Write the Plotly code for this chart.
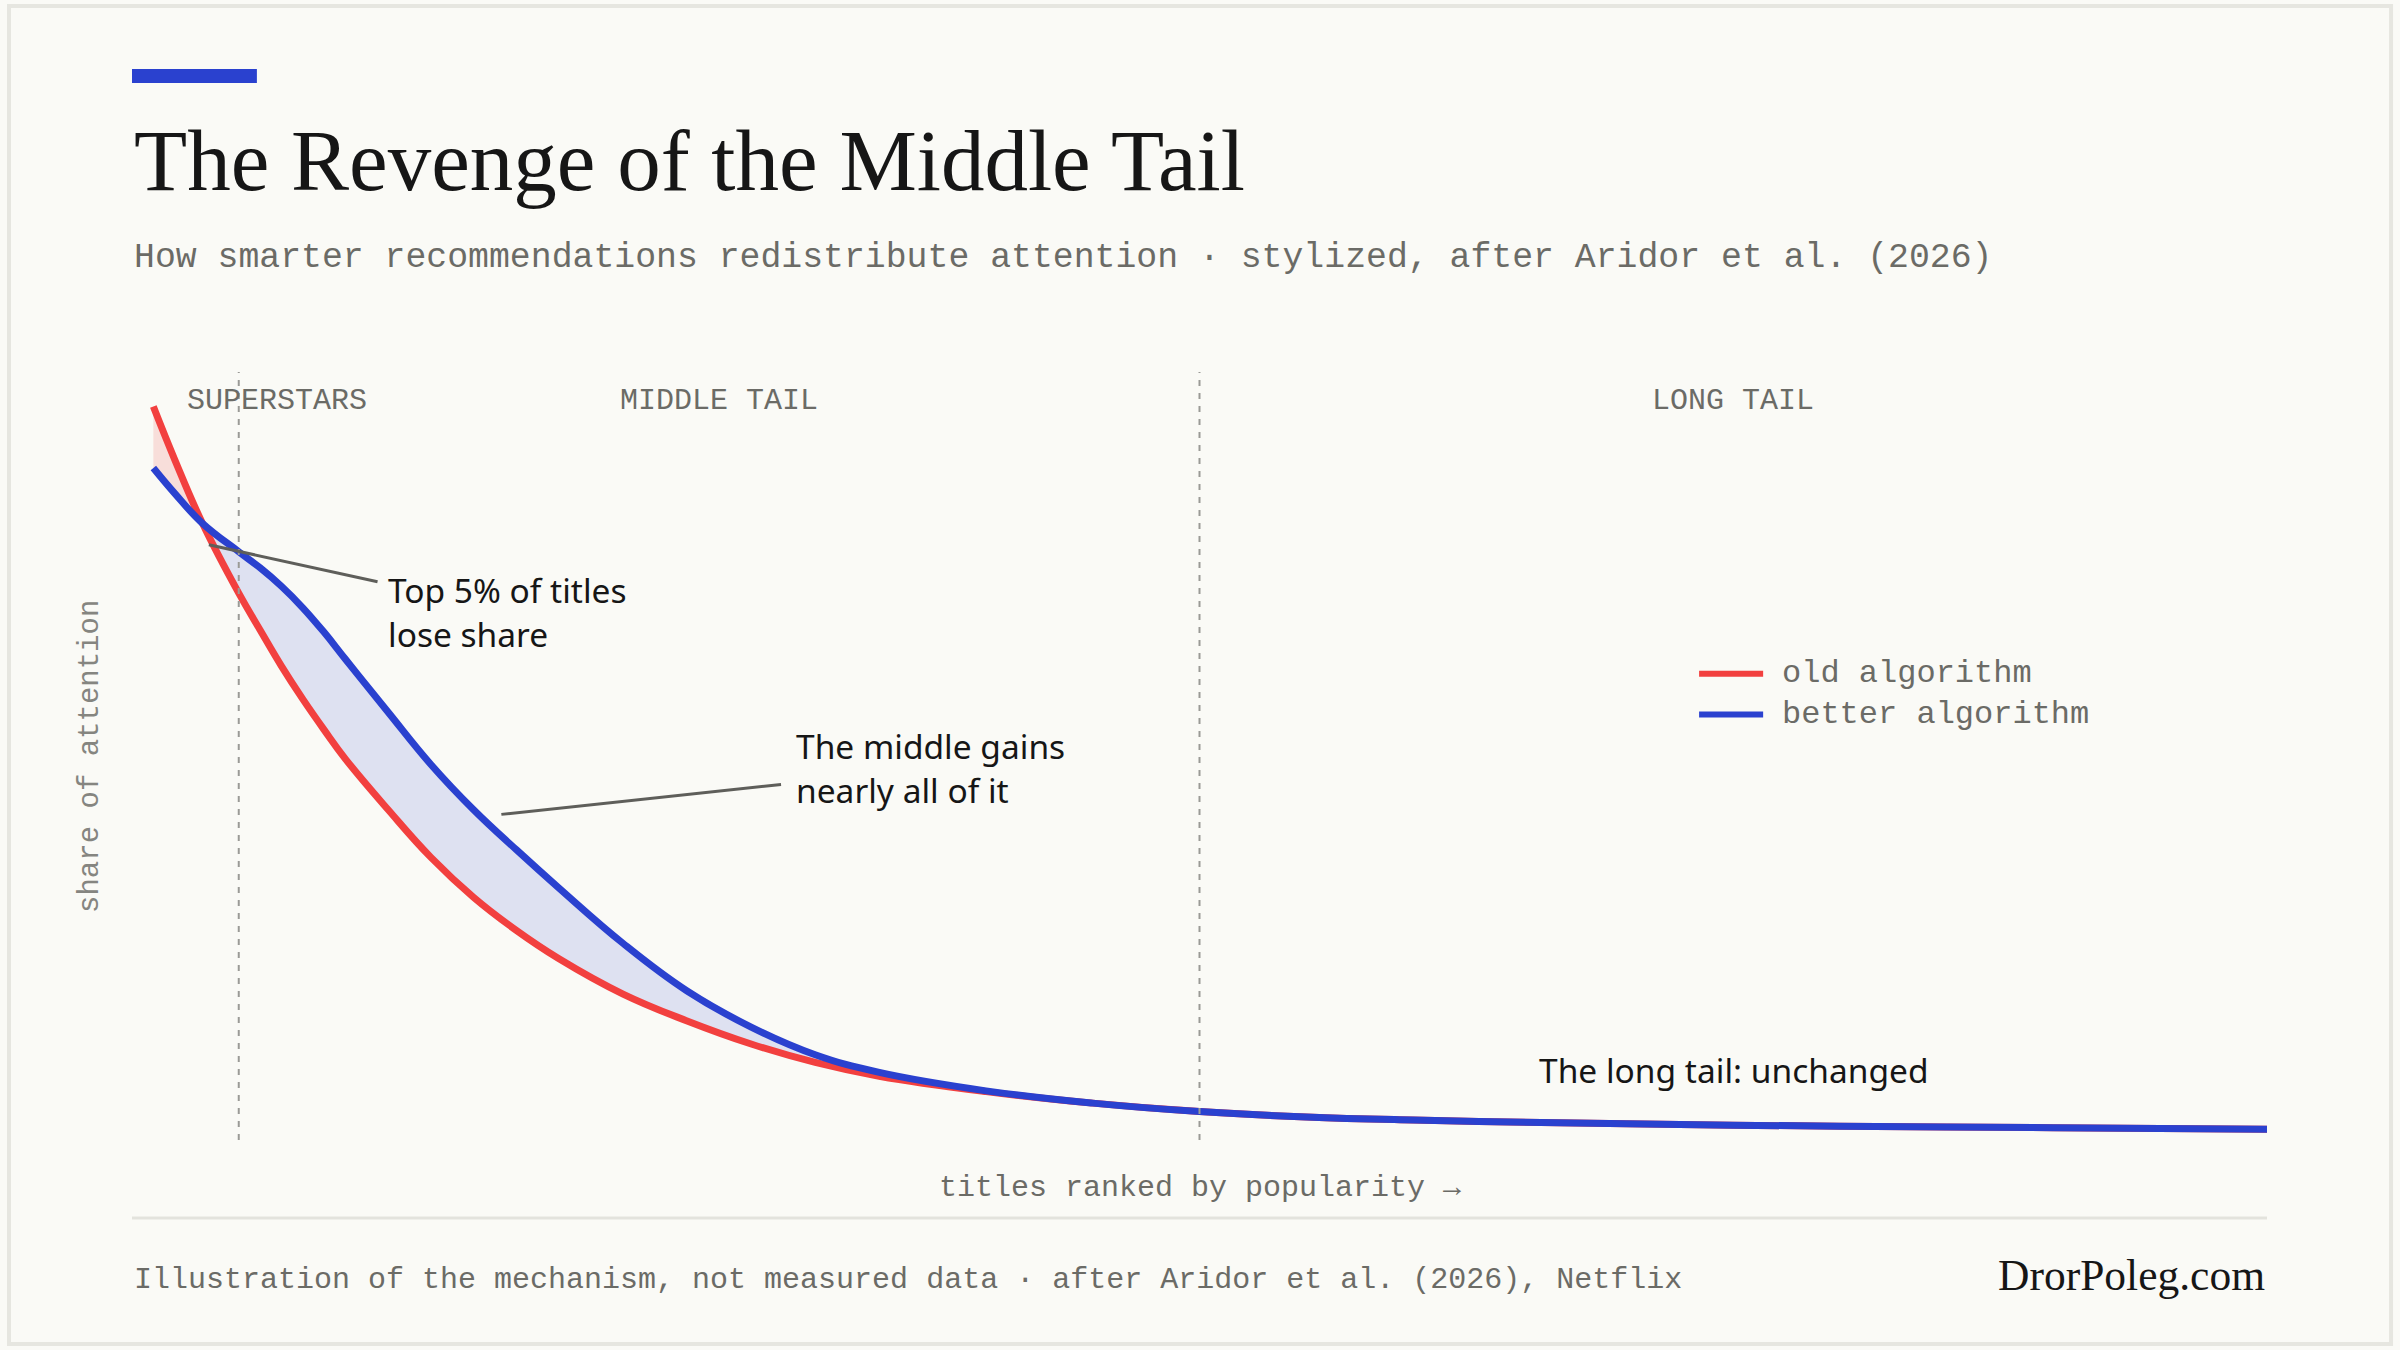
import plotly.graph_objects as go

# share of attention by popularity rank (stylized)
rank = [1, 2, 3.3, 5, 6, 7, 8, 9, 10, 12, 14, 16, 18, 20, 23, 26, 29, 32, 35,
        40, 45, 50, 55, 60, 70, 80, 90, 100]
old_algo = [0.955, 0.886, 0.803, 0.712, 0.664, 0.617, 0.574, 0.534, 0.496,
            0.430, 0.368, 0.316, 0.273, 0.236, 0.190, 0.155, 0.125, 0.101, 0.083,
            0.063, 0.048, 0.037, 0.030, 0.026, 0.021, 0.018, 0.016, 0.014]
better_algo = [0.875, 0.842, 0.803, 0.766, 0.745, 0.721, 0.693, 0.661, 0.626,
               0.557, 0.489, 0.430, 0.378, 0.328, 0.256, 0.194, 0.147, 0.111, 0.088,
               0.064, 0.048, 0.037, 0.030, 0.026, 0.021, 0.018, 0.016, 0.014]
cross = 2  # index where the two curves meet

zones = ["SUPERSTARS", "MIDDLE TAIL", "LONG TAIL"]
zone_edges = [5, 50]

RED = "#F2403F"
BLUE = "#2A41CF"
BG = "#FAFAF6"
GREY = "#6B6B66"
INK = "#161616"
MONO = "Liberation Mono, DejaVu Sans Mono, monospace"
SANS = "Noto Sans, Open Sans, sans-serif"
SERIF = "Liberation Serif, DejaVu Serif, serif"
SMOOTH = 1.2

fig = go.Figure()

# pink band: superstars lose share
fig.add_trace(go.Scatter(x=rank[:cross + 1], y=old_algo[:cross + 1], mode="lines",
                         line=dict(width=0, shape="spline", smoothing=SMOOTH), hoverinfo="skip"))
fig.add_trace(go.Scatter(x=rank[:cross + 1], y=better_algo[:cross + 1], mode="lines",
                         line=dict(width=0, shape="spline", smoothing=SMOOTH), fill="tonexty",
                         fillcolor="rgba(242,64,63,0.15)", hoverinfo="skip"))
# blue band: the middle gains
fig.add_trace(go.Scatter(x=rank[cross:], y=old_algo[cross:], mode="lines",
                         line=dict(width=0, shape="spline", smoothing=SMOOTH), hoverinfo="skip"))
fig.add_trace(go.Scatter(x=rank[cross:], y=better_algo[cross:], mode="lines",
                         line=dict(width=0, shape="spline", smoothing=SMOOTH), fill="tonexty",
                         fillcolor="rgba(42,65,207,0.13)", hoverinfo="skip"))

fig.add_trace(go.Scatter(x=rank, y=old_algo, mode="lines", name="old algorithm",
                         line=dict(color=RED, width=7, shape="spline", smoothing=SMOOTH)))
fig.add_trace(go.Scatter(x=rank, y=better_algo, mode="lines", name="better algorithm",
                         line=dict(color=BLUE, width=7, shape="spline", smoothing=SMOOTH)))

shapes = []
# outer frame and accent bar
shapes.append(dict(type="rect", xref="paper", yref="paper", x0=-0.0576, x1=1.0581,
                   y0=-0.2656, y1=1.4766, line=dict(color="#E6E6E0", width=4)))
shapes.append(dict(type="rect", xref="paper", yref="paper", x0=0, x1=0.0585,
                   y0=1.3763, y1=1.3945, fillcolor=BLUE, line=dict(width=0)))
# zone dividers
for edge in zone_edges:
    shapes.append(dict(type="line", xref="x", yref="paper", x0=edge, x1=edge, y0=0, y1=1,
                       line=dict(color="#9A9A96", width=2, dash="6px,7px")))
# separator above footer
shapes.append(dict(type="line", xref="paper", yref="paper", x0=0, x1=1,
                   y0=-0.1016, y1=-0.1016, line=dict(color="#E3E3DD", width=3)))
# leader lines
shapes.append(dict(type="line", xref="x", yref="y", x0=3.6, y0=0.775, x1=11.5, y1=0.727,
                   line=dict(color="#5E5E5A", width=3)))
shapes.append(dict(type="line", xref="x", yref="y", x0=17.3, y0=0.424, x1=30.4, y1=0.463,
                   line=dict(color="#5E5E5A", width=3)))
# legend samples
shapes.append(dict(type="line", xref="paper", yref="paper", x0=0.734, x1=0.764,
                   y0=0.607, y1=0.607, line=dict(color=RED, width=6)))
shapes.append(dict(type="line", xref="paper", yref="paper", x0=0.734, x1=0.764,
                   y0=0.554, y1=0.554, line=dict(color=BLUE, width=6)))

ann = []
ann.append(dict(text="The Revenge of the Middle Tail", xref="paper", yref="paper",
                x=0, y=1.276, xanchor="left", yanchor="middle", showarrow=False,
                font=dict(family=SERIF, size=87, color=INK)))
ann.append(dict(text="How smarter recommendations redistribute attention · stylized, after Aridor et al. (2026)",
                xref="paper", yref="paper", x=0, y=1.149, xanchor="left", yanchor="middle",
                showarrow=False, font=dict(family=MONO, size=34.8, color=GREY)))
# zone labels
zone_x = [2.5, 27.5, 75]
zone_anchor = ["left", "center", "center"]
for name, zx, za in zip(zones, zone_x, zone_anchor):
    ann.append(dict(text=name, xref="x", yref="paper", x=zx, y=0.962, xanchor=za,
                    yanchor="middle", showarrow=False,
                    font=dict(family=MONO, size=30, color=GREY)))
# callouts
callouts = [("Top 5% of titles<br>lose share", 11.9, 0.6875),
            ("The middle gains<br>nearly all of it", 31.0, 0.485),
            ("The long tail: unchanged", 65.8, 0.091)]
for txt, cx, cy in callouts:
    ann.append(dict(text=txt, xref="x", yref="y", x=cx, y=cy, xanchor="left",
                    yanchor="middle", align="left", showarrow=False,
                    font=dict(family=SANS, size=33.5, color=INK)))
# legend labels
ann.append(dict(text="old algorithm", xref="paper", yref="paper", x=0.772, y=0.607,
                xanchor="left", yanchor="middle", showarrow=False,
                font=dict(family=MONO, size=32, color=GREY)))
ann.append(dict(text="better algorithm", xref="paper", yref="paper", x=0.772, y=0.554,
                xanchor="left", yanchor="middle", showarrow=False,
                font=dict(family=MONO, size=32, color=GREY)))
# axis titles
ann.append(dict(text="titles ranked by popularity →", xref="paper", yref="paper", x=0.5,
                y=-0.0625, xanchor="center", yanchor="middle", showarrow=False,
                font=dict(family=MONO, size=30, color=GREY)))
ann.append(dict(text="share of attention", xref="paper", yref="paper", x=-0.0197, y=0.5,
                xanchor="center", yanchor="middle", textangle=-90, showarrow=False,
                font=dict(family=MONO, size=29, color="#858580")))
# footer
ann.append(dict(text="Illustration of the mechanism, not measured data · after Aridor et al. (2026), Netflix",
                xref="paper", yref="paper", x=0, y=-0.1818, xanchor="left", yanchor="middle",
                showarrow=False, font=dict(family=MONO, size=30, color=GREY)))
ann.append(dict(text="DrorPoleg.com", xref="paper", yref="paper", x=1, y=-0.176,
                xanchor="right", yanchor="middle", showarrow=False,
                font=dict(family=SERIF, size=43.5, color=INK)))

fig.update_layout(
    width=2400, height=1350,
    margin=dict(l=132, r=133, t=372, b=210),
    paper_bgcolor=BG, plot_bgcolor=BG,
    showlegend=False,
    shapes=shapes, annotations=ann,
    xaxis=dict(range=[0, 100], visible=False, fixedrange=True),
    yaxis=dict(range=[0, 1], visible=False, fixedrange=True),
)

fig.write_html("out.html", config={"displayModeBar": False},
               post_script="document.body.style.margin='0px';")
